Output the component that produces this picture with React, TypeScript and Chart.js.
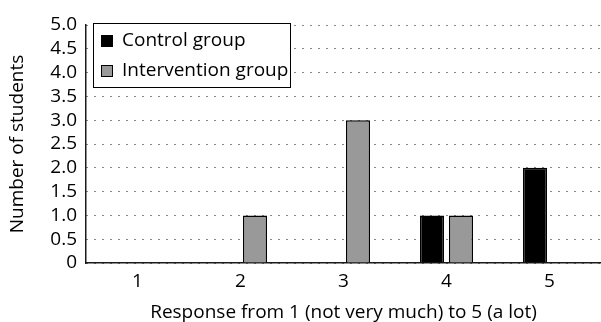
import React, { useEffect, useRef } from "react";
import { Chart, registerables } from "chart.js";

Chart.register(...registerables);

const categories = ["1", "2", "3", "4", "5"];
const controlGroup = [0, 0, 0, 1, 2];
const interventionGroup = [0, 1, 3, 1, 0];
const seriesLabels = ["Control group", "Intervention group"];
const yMin = 0;
const yMax = 5;
const yStep = 0.5;
const xTitle = "Response from 1 (not very much) to 5 (a lot)";
const yTitle = "Number of students";

const FONT = "'Open Sans', 'DejaVu Sans', sans-serif";
const FS = 19;

const boxLegend = {
  id: "boxLegend",
  afterDatasetsDraw(chart: any) {
    const { ctx, chartArea } = chart;
    const x = Math.round(chartArea.left) + 7;
    const y = Math.round(chartArea.top) - 2;
    const w = 198;
    const h = 65;
    ctx.save();
    ctx.fillStyle = "#ffffff";
    ctx.fillRect(x, y, w, h);
    ctx.strokeStyle = "#000000";
    ctx.lineWidth = 1;
    ctx.strokeRect(x + 0.5, y + 0.5, w - 1, h - 1);
    ctx.font = `${FS}px ${FONT}`;
    ctx.textBaseline = "middle";
    ctx.textAlign = "left";
    chart.data.datasets.forEach((ds: any, i: number) => {
      const sy = y + 12 + i * 30;
      ctx.fillStyle = ds.backgroundColor;
      ctx.fillRect(x + 8, sy, 12, 12);
      ctx.strokeStyle = "#000";
      ctx.lineWidth = 1;
      ctx.strokeRect(x + 8.5, sy + 0.5, 11, 11);
      ctx.fillStyle = "#000";
      ctx.fillText(ds.label, x + 29, sy + 6);
    });
    ctx.restore();
  },
};

export default function App() {
  const ref = useRef<HTMLCanvasElement | null>(null);

  useEffect(() => {
    if (!ref.current) return;
    const chart = new Chart(ref.current, {
      type: "bar",
      data: {
        labels: categories,
        datasets: [
          {
            label: seriesLabels[0],
            data: controlGroup,
            backgroundColor: "#000000",
            borderColor: "#000000",
            borderWidth: (c: any) => (c.raw === 0 ? 0 : 1.5),
          },
          {
            label: seriesLabels[1],
            data: interventionGroup,
            backgroundColor: "#999999",
            borderColor: "#000000",
            borderWidth: (c: any) => (c.raw === 0 ? 0 : 1.5),
          },
        ],
      },
      options: {
        responsive: false,
        animation: false,
        layout: { padding: { top: 25, right: 0, left: 0, bottom: 0 } },
        plugins: {
          legend: { display: false },
          tooltip: { enabled: false },
        },
        datasets: {
          bar: { categoryPercentage: 0.563, barPercentage: 0.83 },
        },
        scales: {
          x: {
            grid: { display: false, drawTicks: false },
            border: { display: true, color: "#1a1a1a", width: 1.5 },
            ticks: {
              color: "#000",
              font: { family: FONT, size: FS },
              padding: 7,
            },
            title: {
              display: true,
              text: xTitle,
              color: "#000",
              font: { family: FONT, size: FS },
              padding: { top: 0, bottom: -2 },
            },
            afterFit(scale: any) {
              scale.height = 59;
            },
          },
          y: {
            min: yMin,
            max: yMax,
            grid: { display: true, drawTicks: false, color: "#111", lineWidth: 1 },
            border: { display: true, color: "#1a1a1a", width: 1.5, dash: [1, 7] },
            ticks: {
              stepSize: yStep,
              autoSkip: false,
              color: "#000",
              font: { family: FONT, size: FS },
              padding: 9,
              callback: (v: any) => (Number(v) === 0 ? "0" : Number(v).toFixed(1)),
            },
            title: {
              display: true,
              text: yTitle,
              color: "#000",
              font: { family: FONT, size: FS },
              padding: { top: 6, bottom: 0 },
            },
            afterFit(scale: any) {
              scale.width = 86;
            },
          },
        },
      },
      plugins: [boxLegend],
    });
    return () => chart.destroy();
  }, []);

  return (
    <div style={{ position: "absolute", left: 0, top: 0, width: 601, height: 322, background: "#fff" }}>
      <canvas ref={ref} width={601} height={322} style={{ display: "block" }} />
    </div>
  );
}
